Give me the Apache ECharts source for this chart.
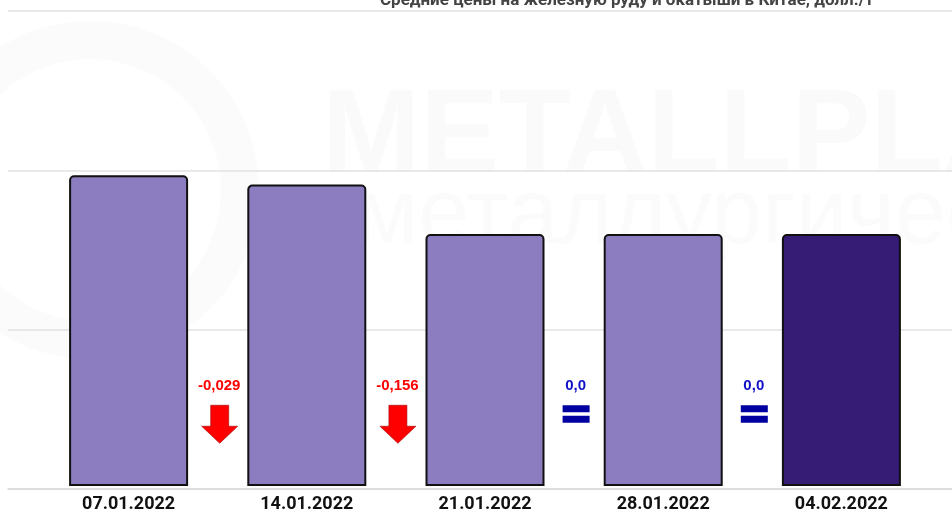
<!DOCTYPE html>
<html>
<head>
<meta charset="utf-8">
<script src="https://cdn.jsdelivr.net/npm/echarts@6/dist/echarts.min.js"></script>
<style>
  html, body { margin: 0; padding: 0; background: #fff; }
  #chart { width: 952px; height: 513px; }
</style>
</head>
<body>
<div id="chart"></div>
<script>
// weekly values
const dates = ['07.01.2022', '14.01.2022', '21.01.2022', '28.01.2022', '04.02.2022'];
const values = [0.981, 0.952, 0.796, 0.796, 0.796];
// week-on-week changes shown between bars
const changes = [-0.029, -0.156, 0.0, 0.0];
const changeLabels = ['-0,029', '-0,156', '0,0', '0,0'];

const barColor = '#8c7dc0';
const lastBarColor = '#361c74';
const arrowPath = 'path://M9,0H27V21H36L18,38L0,21H9Z';
const equalPath = 'path://M0,0H27V7H0Z M0,10.5H27V17.5H0Z';

const chart = echarts.init(document.getElementById('chart'));

const gridTop = 11;
const gridBottom = 24;
const yMax = 1.5;
const labelY = 0.315;   // level of change texts
const iconY = 0.255;    // level of the icons' top edge

const barData = values.map((v, i) => ({
  value: v,
  itemStyle: { color: i === values.length - 1 ? lastBarColor : barColor }
}));

const iconData = changes.map((c, i) => {
  const down = c < 0;
  return {
    value: [i + 1, iconY],
    symbol: c === 0 ? equalPath : arrowPath,
    symbolSize: c === 0 ? [27, 17.5] : [36, 38],
    symbolRotate: c > 0 ? 180 : 0,
    itemStyle: {
      opacity: 1,
      color: down ? '#ff0000' : '#0000a0',
      borderColor: down ? '#a00000' : '#0000a0',
      borderWidth: down ? 0.6 : 0
    }
  };
});

const textData = changes.map((c, i) => ({
  value: [i + 1, labelY],
  itemStyle: { opacity: 1 },
  label: { color: c < 0 ? '#ff0000' : '#1010c8' }
}));

chart.setOption({
  animation: false,
  title: {
    text: 'Средние цены на железную руду и окатыши в Китае, долл./т',
    left: 375,
    top: -13,
    textStyle: { fontSize: 17, fontWeight: 'bold', color: '#444', fontFamily: 'Roboto' }
  },
  graphic: [
    {
      type: 'circle', silent: true, z: -10,
      shape: { cx: 90, cy: 190, r: 150 },
      style: { fill: 'none', stroke: '#fbfbfb', lineWidth: 38 }
    },
    {
      type: 'text', silent: true, z: -10,
      left: 322, top: 80,
      style: { text: 'METALLPLACE', font: 'bold 118px "Liberation Sans"', fill: '#fafafa' }
    },
    {
      type: 'text', silent: true, z: -10,
      left: 355, top: 172,
      style: { text: 'металлургический портал', font: '92px "Liberation Sans"', fill: '#fbfbfb' }
    }
  ],
  grid: [
    { left: 8, right: 0, top: gridTop, bottom: gridBottom },
    { left: 39.5, right: 21.5, top: gridTop, bottom: gridBottom }
  ],
  xAxis: [
    {
      gridIndex: 0, type: 'value', min: 0, max: 1, show: true,
      axisLine: { show: true, onZero: false, lineStyle: { color: '#d9d9d9', width: 1.5 } },
      axisTick: { show: false }, axisLabel: { show: false }, splitLine: { show: false }
    },
    {
      gridIndex: 1, type: 'category', data: dates,
      axisLine: { show: false }, axisTick: { show: false },
      axisLabel: {
        margin: 9, fontSize: 18, fontWeight: 'bold', color: '#111',
        fontFamily: 'Roboto'
      }
    },
    {
      gridIndex: 1, type: 'value', min: 0, max: dates.length, show: false
    }
  ],
  yAxis: [
    {
      gridIndex: 0, type: 'value', min: 0, max: yMax, interval: 0.5,
      axisLine: { show: false }, axisTick: { show: false }, axisLabel: { show: false },
      splitLine: { lineStyle: { color: '#e2e2e2', width: 1.5 } }
    },
    {
      gridIndex: 1, type: 'value', min: 0, max: yMax, interval: 0.5, show: false,
      splitLine: { show: false }
    }
  ],
  series: [
    {
      type: 'bar',
      xAxisIndex: 1, yAxisIndex: 1,
      data: barData,
      barWidth: 119,
      itemStyle: { borderColor: '#111', borderWidth: 2, borderRadius: [4, 4, 0, 0] }
    },
    {
      type: 'scatter',
      xAxisIndex: 2, yAxisIndex: 1,
      data: iconData,
      symbolOffset: [2, '50%'],
      z: 5
    },
    {
      type: 'scatter',
      xAxisIndex: 2, yAxisIndex: 1,
      data: textData,
      symbolSize: 0,
      label: {
        show: true,
        position: 'inside',
        offset: [1.5, 0],
        fontSize: 15,
        fontWeight: 'bold',
        fontFamily: 'Liberation Sans',
        formatter: p => changeLabels[p.dataIndex]
      },
      z: 5
    }
  ]
});
</script>
</body>
</html>
